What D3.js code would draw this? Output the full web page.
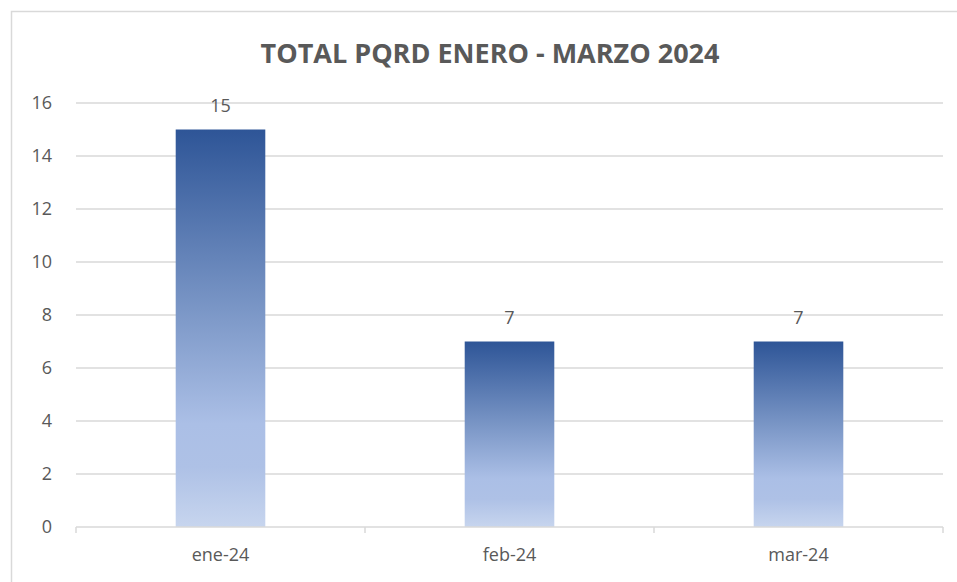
<!DOCTYPE html>
<meta charset="utf-8">
<script src="https://d3js.org/d3.v7.min.js"></script>
<style>
  body { margin: 0; background: #fff; }
  text { font-family: "Open Sans", "Liberation Sans", sans-serif; fill: #595959; }
</style>
<div id="chart"></div>
<script>
// data
var months = ["ene-24", "feb-24", "mar-24"];
var totals = [15, 7, 7];
var yTicks = [0, 2, 4, 6, 8, 10, 12, 14, 16];
var chartTitle = "TOTAL PQRD ENERO - MARZO 2024";

var W = 957, H = 582;
var margin = {top: 103, right: 14, bottom: 55, left: 76},
  width = W - margin.left - margin.right,
  height = H - margin.top - margin.bottom;

var svg = d3.select("#chart").append("svg")
  .attr("width", W)
  .attr("height", H);

// outer chart frame
svg.append("rect")
  .attr("x", 11.5).attr("y", 11.5)
  .attr("width", W).attr("height", H)
  .attr("fill", "none")
  .attr("stroke", "#d9d9d9")
  .attr("stroke-width", 1.5);

// gradient for bars
var defs = svg.append("defs");
var grad = defs.append("linearGradient")
  .attr("id", "barGrad")
  .attr("x1", 0).attr("y1", 0).attr("x2", 0).attr("y2", 1);
grad.append("stop").attr("offset", "0%").attr("stop-color", "#2e5597");
grad.append("stop").attr("offset", "45%").attr("stop-color", "#7a96c6");
grad.append("stop").attr("offset", "74%").attr("stop-color", "#abbfe6");
grad.append("stop").attr("offset", "85%").attr("stop-color", "#aec1e6");
grad.append("stop").attr("offset", "100%").attr("stop-color", "#c7d5ee");

var g = svg.append("g")
  .attr("transform", "translate(" + margin.left + "," + margin.top + ")");

var x = d3.scaleBand()
  .domain(months)
  .range([0, width])
  .paddingInner(0.69)
  .paddingOuter(0.345);

var y = d3.scaleLinear()
  .domain([0, 16])
  .range([height, 0]);

// gridlines
g.selectAll(".grid")
  .data(yTicks.filter(function(d) { return d > 0; }))
  .enter().append("line")
    .attr("x1", 0).attr("x2", width)
    .attr("y1", function(d) { return y(d); })
    .attr("y2", function(d) { return y(d); })
    .attr("stroke", "#d9d9d9")
    .attr("stroke-width", 1.5);

// y axis labels
var yAxis = g.append("g")
  .call(d3.axisLeft(y).tickValues(yTicks).tickSize(0).tickPadding(24));
yAxis.select(".domain").remove();
yAxis.selectAll("text")
  .style("font-size", "18px")
  .attr("fill", "#595959");

// bars
g.selectAll(".bar")
  .data(totals)
  .enter().append("rect")
    .attr("x", function(d, i) { return x(months[i]); })
    .attr("y", function(d) { return y(d); })
    .attr("width", x.bandwidth())
    .attr("height", function(d) { return height - y(d); })
    .attr("fill", "url(#barGrad)");

// value labels
g.selectAll(".lbl")
  .data(totals)
  .enter().append("text")
    .attr("x", function(d, i) { return x(months[i]) + x.bandwidth() / 2; })
    .attr("y", function(d) { return y(d) - 18; })
    .attr("text-anchor", "middle")
    .style("font-size", "18px")
    .text(function(d) { return d; });

// x axis
var xAxis = g.append("g")
  .attr("transform", "translate(0," + height + ")")
  .call(d3.axisBottom(x).tickSize(0).tickPadding(21));
xAxis.select(".domain")
  .attr("stroke", "#d9d9d9")
  .attr("stroke-width", 1.5)
  .attr("d", "M0,0H" + width);
xAxis.selectAll("text")
  .style("font-size", "18px")
  .attr("fill", "#595959");
// category separator ticks
xAxis.selectAll(".sep")
  .data(d3.range(months.length + 1))
  .enter().append("line")
    .attr("x1", function(i) { return i * width / months.length; })
    .attr("x2", function(i) { return i * width / months.length; })
    .attr("y1", 0).attr("y2", 6)
    .attr("stroke", "#d9d9d9")
    .attr("stroke-width", 1.5);

// title
svg.append("text")
  .attr("x", 490)
  .attr("y", 63)
  .attr("text-anchor", "middle")
  .style("font-size", "27px")
  .style("font-weight", "bold")
  .text(chartTitle);
</script>
